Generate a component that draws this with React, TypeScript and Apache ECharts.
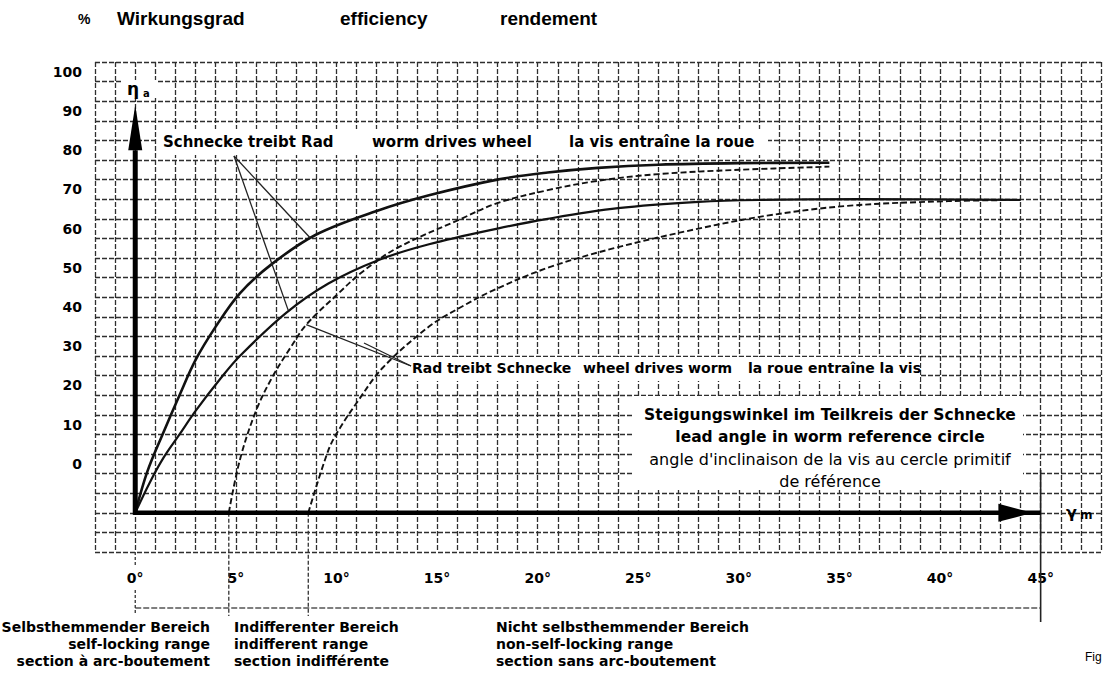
import React, { useEffect, useRef } from "react";
import * as echarts from "echarts";

// ---- data ----
const xTickLabels = [0, 5, 10, 15, 20, 25, 30, 35, 40, 45];
const yTickLabels = [0, 10, 20, 30, 40, 50, 60, 70, 80, 90, 100];
const axisBase = -12.5; // value where the drawn γm axis sits

// Schnecke treibt Rad / worm drives wheel (two solid curves)
const wormDrivesUpper = [
  [0, -12.5], [0.6, -2], [1.4, 8], [2.2, 17.5], [3, 26.5], [4, 35], [5.2, 43.5],
  [6.8, 51], [9, 58.5], [12, 64.5], [14.6, 68.5], [18, 72.5], [20.5, 74.3],
  [23, 75.5], [26, 76.3], [30, 76.7], [34.5, 76.8],
];
const wormDrivesLower = [
  [0, -12.5], [0.7, -5], [1.4, 1.5], [2.2, 7.5], [3, 13.5], [4.2, 21.5], [5.2, 27.5],
  [7.5, 38.5], [9.6, 46], [12.1, 52], [14.6, 56], [18, 60], [20.5, 62.5],
  [24, 65.2], [28, 66.8], [31, 67.3], [36, 67.5], [44, 67.3],
];
// Rad treibt Schnecke / wheel drives worm (two dashed curves)
const wheelDrivesUpper = [
  [4.65, -12.5], [5.2, 1], [6, 13.5], [6.8, 22], [7.7, 29.5], [8.5, 35.5], [10, 43],
  [11.3, 49], [13, 55], [16.2, 62.5], [18, 66.5], [20.5, 69.8], [23, 72.2],
  [26, 73.9], [30, 75], [34.5, 75.8],
];
const wheelDrivesLower = [
  [8.6, -12.5], [9.6, 3.5], [10.1, 8.5], [11, 15.5], [12.3, 24.5], [14.6, 35],
  [16.2, 40], [17.9, 44.5], [20.5, 50], [23.8, 55], [28, 60], [31.4, 63.3],
  [35.4, 65.8], [40.4, 67], [44, 67.3],
];

const FONT = '"DejaVu Sans", sans-serif';
const ARIAL = '"Liberation Sans", Arial, sans-serif';

export default function App() {
  const ref = useRef<HTMLDivElement>(null);

  useEffect(() => {
    const el = ref.current as HTMLDivElement;
    const chart = echarts.init(el, null, { renderer: "svg" });
    const gridLine = { type: [5, 2], color: "#2e2e2e", width: 1.3 };

    const lineSeries = (name: string, data: number[][], solid: boolean, width: number) => ({
      type: "line",
      name,
      data,
      yAxisIndex: 1,
      symbol: "none",
      smooth: 0.35,
      z: 5,
      lineStyle: { color: "#111", width, type: solid ? "solid" : [6, 3] },
    });

    chart.setOption({
      animation: false,
      backgroundColor: "#ffffff",
      grid: { left: 95, right: 0, top: 62, bottom: 124, containLabel: false },
      xAxis: {
        type: "value",
        min: -2,
        max: 48,
        interval: 1,
        axisLine: { show: false },
        axisTick: { show: false },
        splitLine: { show: true, lineStyle: gridLine },
        axisLabel: {
          formatter: (v: number) => (xTickLabels.includes(v) ? v + "°" : ""),
          margin: 19,
          fontSize: 14,
          fontWeight: "bold",
          fontFamily: FONT,
          color: "#000",
        },
      },
      yAxis: [
        {
          type: "value",
          min: 0,
          max: 25,
          interval: 1,
          position: "right",
          axisLine: { show: false },
          axisTick: { show: false },
          axisLabel: { show: false },
          splitLine: { show: true, lineStyle: gridLine },
        },
        {
          type: "value",
          min: -22.5,
          max: 102.5,
          interval: 2.5,
          position: "left",
          axisLine: { show: false },
          axisTick: { show: false },
          splitLine: { show: false },
          axisLabel: {
            formatter: (v: number) => (yTickLabels.includes(v) ? String(v) : ""),
            margin: 13,
            fontSize: 14,
            fontWeight: "bold",
            fontFamily: FONT,
            color: "#000",
          },
        },
      ],
      series: [
        lineSeries("Schnecke treibt Rad 1", wormDrivesUpper, true, 2.6),
        lineSeries("Schnecke treibt Rad 2", wormDrivesLower, true, 2.2),
        lineSeries("Rad treibt Schnecke 1", wheelDrivesUpper, false, 1.9),
        lineSeries("Rad treibt Schnecke 2", wheelDrivesLower, false, 1.9),
      ],
    });

    const px = (x: number, y: number) =>
      chart.convertToPixel({ seriesIndex: 0 }, [x, y]) as number[];
    const o = px(0, axisBase);
    const yHeadBase = px(0, 80);
    const yTip = px(0, 91.5);
    const xEnd = px(45, axisBase);
    const xHeadStart = px(42.9, axisBase);
    const xHeadTip = px(44.6, axisBase);
    const cStart = px(wheelDrivesUpper[0][0], axisBase);
    const dStart = px(wheelDrivesLower[0][0], axisBase);
    const dimY = 608;

    const ln = (x1: number, y1: number, x2: number, y2: number, w: number, dash?: number[] | string, color = "#111", z = 12) => ({
      type: "line",
      z,
      shape: { x1, y1, x2, y2 },
      style: { stroke: color, lineWidth: w, lineDash: dash },
    });
    const txt = (text: string, x: number, y: number, font: string, align = "left", z = 15) => ({
      type: "text",
      z,
      style: { text, x, y, font, fill: "#000", textAlign: align, textVerticalAlign: "middle" },
    });
    const white = (x: number, y: number, w: number, h: number) => ({
      type: "rect",
      z: 10,
      shape: { x, y, width: w, height: h },
      style: { fill: "#fff" },
    });

    const pA = px(8.7, 57.6);
    const pB = px(7.6, 39.2);
    const pC = px(8.5, 35.5);

    chart.setOption({
      graphic: [
        // white label backgrounds
        white(157, 129, 611, 26),
        white(408, 357, 512, 24),
        white(633, 396, 390, 94),
        white(121, 80, 36, 18),
        // y arrow
        ln(o[0], o[1] + 2, yHeadBase[0], yHeadBase[1], 5, undefined, "#000", 20),
        {
          type: "polygon", z: 20,
          shape: { points: [[yHeadBase[0] - 7, yHeadBase[1]], [yHeadBase[0] + 7, yHeadBase[1]], [yTip[0], yTip[1]]] },
          style: { fill: "#000" },
        },
        // x arrow
        ln(o[0] - 2, o[1], xEnd[0], xEnd[1], 4.5, undefined, "#000", 20),
        {
          type: "polygon", z: 20,
          shape: { points: [[xHeadStart[0], xHeadStart[1] - 9], [xHeadStart[0], xHeadStart[1] + 9], [xHeadTip[0], xHeadTip[1]]] },
          style: { fill: "#000" },
        },
        // dimension lines below the axis
        ln(o[0], dimY, xEnd[0], dimY, 1.3, [6, 2], "#555"),
        ln(o[0], 552, o[0], 566, 1.3, [3, 2], "#333"),
        ln(o[0], 590, o[0], 614, 1.3, [3, 2], "#333"),
        ln(cStart[0], cStart[1], cStart[0], 616, 1.3, [4, 2], "#333"),
        ln(dStart[0], dStart[1], dStart[0], 616, 1.3, [4, 2], "#333"),
        ln(xEnd[0], 470, xEnd[0], 622, 1.6, undefined, "#222"),
        // pointers
        ln(234, 156, pA[0], pA[1], 1.3, undefined, "#222"),
        ln(234, 156, pB[0], pB[1], 1.3, undefined, "#222"),
        ln(411, 366, pC[0], pC[1], 1.3, undefined, "#222"),
        ln(411, 366, 364, 343, 1.3, undefined, "#222"),
        // title
        txt("%", 78, 19, `bold 14px ${ARIAL}`),
        txt("Wirkungsgrad", 117, 18, `bold 19px ${ARIAL}`),
        txt("efficiency", 340, 18, `bold 19px ${ARIAL}`),
        txt("rendement", 500, 18, `bold 19px ${ARIAL}`),
        // axis names
        txt("η", 127, 89, `bold 17px ${FONT}`),
        txt("a", 143, 93, `bold 10px ${FONT}`),
        txt("γ", 1066, 512, `bold 16px ${FONT}`),
        txt("m", 1080, 515, `bold 12px ${FONT}`),
        // curve labels
        txt("Schnecke treibt Rad", 163, 142, `bold 15px ${FONT}`),
        txt("worm drives wheel", 372, 142, `bold 15px ${FONT}`),
        txt("la vis entraîne la roue", 569, 142, `bold 15px ${FONT}`),
        txt("Rad treibt Schnecke", 412, 368, `bold 14px ${FONT}`),
        txt("wheel drives worm", 583, 368, `bold 14px ${FONT}`),
        txt("la roue entraîne la vis", 748, 368, `bold 14px ${FONT}`),
        // axis description box
        txt("Steigungswinkel im Teilkreis der Schnecke", 830, 415, `bold 15.5px ${FONT}`, "center"),
        txt("lead angle in worm reference circle", 830, 437, `bold 15.5px ${FONT}`, "center"),
        txt("angle d'inclinaison de la vis au cercle primitif", 830, 459, `16px ${FONT}`, "center"),
        txt("de référence", 830, 481, `16px ${FONT}`, "center"),
        // ranges
        txt("Selbsthemmender Bereich", 210, 627, `bold 14px ${FONT}`, "right"),
        txt("self-locking range", 210, 644, `bold 14px ${FONT}`, "right"),
        txt("section à arc-boutement", 210, 661, `bold 14px ${FONT}`, "right"),
        txt("Indifferenter Bereich", 234, 627, `bold 14px ${FONT}`),
        txt("indifferent range", 234, 644, `bold 14px ${FONT}`),
        txt("section indifférente", 234, 661, `bold 14px ${FONT}`),
        txt("Nicht selbsthemmender Bereich", 496, 627, `bold 14px ${FONT}`),
        txt("non-self-locking range", 496, 644, `bold 14px ${FONT}`),
        txt("section sans arc-boutement", 496, 661, `bold 14px ${FONT}`),
        txt("Fig", 1085, 657, `12px ${ARIAL}`),
      ],
    });

    return () => chart.dispose();
  }, []);

  return (
    <div
      ref={ref}
      style={{ position: "absolute", left: 0, top: 0, width: 1104, height: 676, background: "#fff" }}
    />
  );
}
